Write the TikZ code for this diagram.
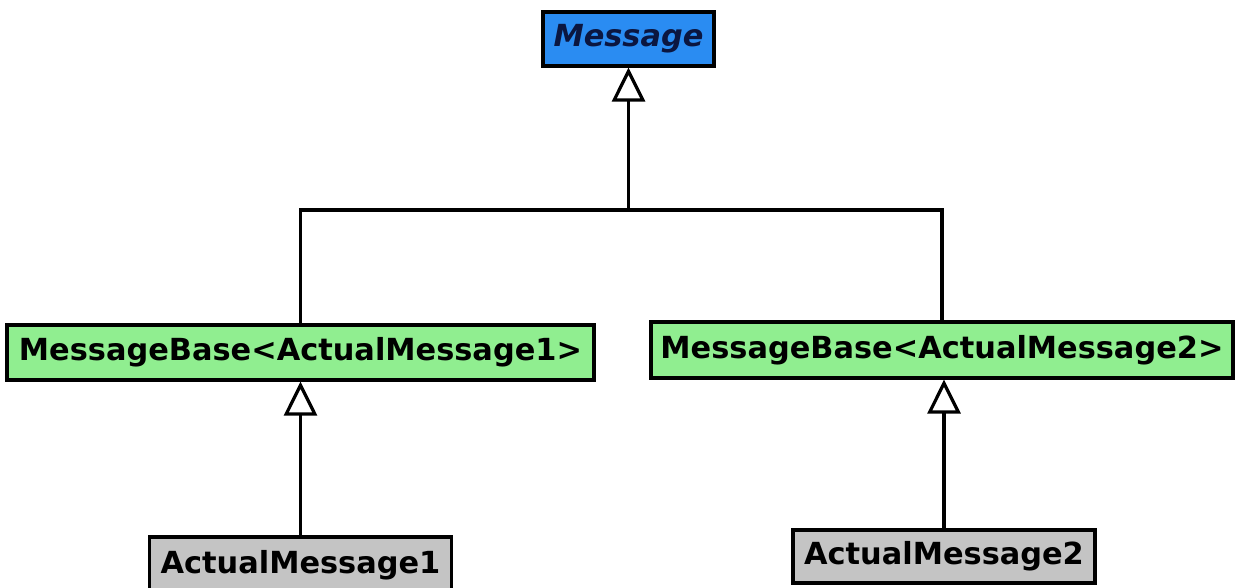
\documentclass[tikz,border=0pt]{standalone}
\usepackage{fontspec}
\setmainfont{DejaVu Sans}
\usetikzlibrary{arrows.meta}
\definecolor{msgblue}{HTML}{2A8CF2}
\definecolor{basegreen}{HTML}{90EE90}
\definecolor{leafgray}{HTML}{C4C4C4}
\definecolor{navytext}{HTML}{0B1640}
\tikzset{
  cls/.style={draw=black, line width=3.2pt, inner sep=0pt, anchor=center,
    font=\fontsize{30.4}{33}\selectfont\bfseries},
  gen/.style={line width=3.2pt, -{Triangle[open, width=33pt, length=34pt, line width=3.2pt]}},
  link/.style={line width=3.2pt}
}
\begin{document}
\begin{tikzpicture}[x=1pt, y=-1pt]
  \useasboundingbox (0,0) rectangle (1237,587);
  % classes
  \node[cls, fill=msgblue, text=navytext, minimum width=171pt, minimum height=54pt,
        font=\fontsize{30.4}{33}\selectfont\bfseries\itshape] (msg) at (628.5,39) {Message};
  \node[cls, fill=basegreen, minimum width=587pt, minimum height=55pt] (mb1) at (300.5,352.5) {MessageBase<ActualMessage1>};
  \node[cls, fill=basegreen, minimum width=582pt, minimum height=56pt] (mb2) at (942,350) {MessageBase<ActualMessage2>};
  \node[cls, fill=leafgray, minimum width=302pt, minimum height=56pt] (am1) at (300.5,565) {ActualMessage1};
  \node[cls, fill=leafgray, minimum width=302pt, minimum height=53pt] (am2) at (944,556.5) {ActualMessage2};
  % inheritance
  \coordinate (j) at (628.5,210);
  \draw[link] (mb1.north) |- (j) -| (mb2.north);
  \draw[gen] (j) -- (msg.south);
  \draw[gen] (am1.north) -- (mb1.south);
  \draw[gen] (am2.north) -- (am2.north |- mb2.south);
\end{tikzpicture}
\end{document}
